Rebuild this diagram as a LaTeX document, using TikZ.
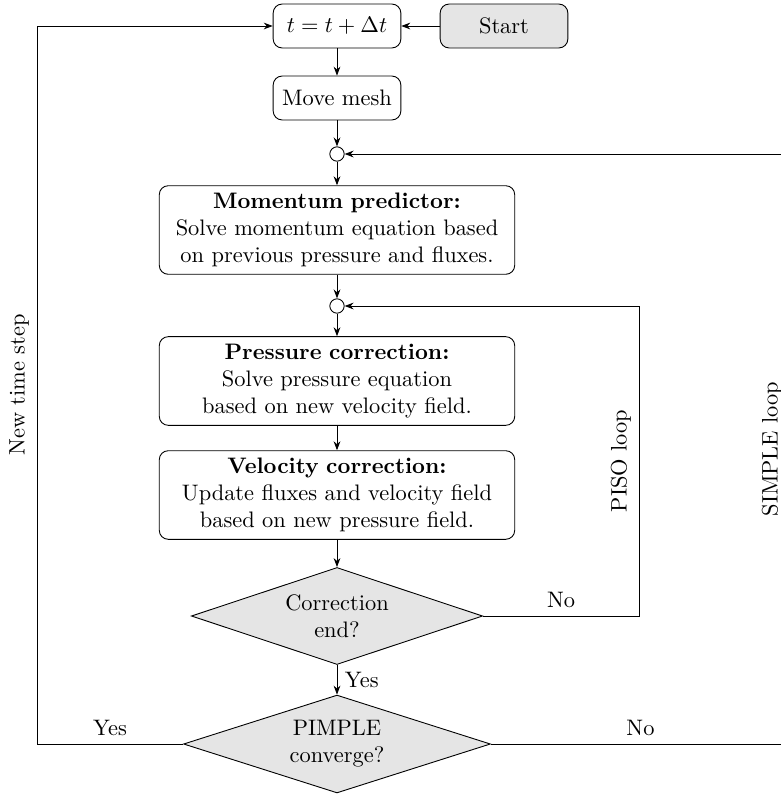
\documentclass[tikz,border=0pt]{standalone}
\usetikzlibrary{shapes.geometric,arrows.meta}
\begin{document}
\begin{tikzpicture}[x=0.4464pt,y=-0.4464pt,
  flow/.style={-{Stealth[length=4pt,width=3pt]}},
  smallbox/.style={draw, rounded corners=4pt, minimum width=57pt, minimum height=19.6pt, align=center},
  startbox/.style={smallbox, fill=gray!20},
  bigbox/.style={draw, rounded corners=4pt, text width=152pt, align=center},
  joint/.style={draw, circle, inner sep=0pt, minimum size=6.4pt},
  decision/.style={draw, diamond, aspect=3, fill=gray!20, inner sep=0pt, align=center}
]
\useasboundingbox (0,0) rectangle (781,795);

\node[smallbox] (t) at (337,26) {$t = t + \Delta t$};
\node[startbox] (start) at (504,26) {Start};
\node[smallbox] (mesh) at (337,98) {Move mesh};
\node[joint] (c1) at (337,154) {};
\node[bigbox] (mom) at (337,230) {\textbf{Momentum predictor:}\\Solve momentum equation based\\on previous pressure and fluxes.};
\node[joint] (c2) at (337,306) {};
\node[bigbox] (pres) at (337,381) {\textbf{Pressure correction:}\\Solve pressure equation\\based on new velocity field.};
\node[bigbox] (vel) at (337,495) {\textbf{Velocity correction:}\\Update fluxes and velocity field\\based on new pressure field.};
\node[decision, minimum width=130pt, minimum height=43.3pt] (corr) at (337,616) {Correction\\end?};
\node[decision, minimum width=137pt, minimum height=43.7pt] (pimple) at (337,744) {PIMPLE\\converge?};

\coordinate (L1) at (37,744);
\coordinate (L2) at (37,26);
\coordinate (P1) at (639,616);
\coordinate (P2) at (639,306);
\coordinate (S1) at (790,744);
\coordinate (S2) at (790,154);

\draw[flow] (start) -- (t);
\draw[flow] (t) -- (mesh);
\draw[flow] (mesh) -- (c1);
\draw[flow] (c1) -- (mom);
\draw[flow] (mom) -- (c2);
\draw[flow] (c2) -- (pres);
\draw[flow] (pres) -- (vel);
\draw[flow] (vel) -- (corr);
\draw[flow] (corr) -- node[right] {Yes} (pimple);

\draw[flow] (pimple.west) -- node[above] {Yes} (L1) -- node[above, sloped] {New time step} (L2) -- (t.west);
\draw[flow] (corr.east) -- node[above] {No} (P1) -- node[above, sloped] {PISO loop} (P2) -- (c2.east);
\draw[flow] (pimple.east) -- node[above] {No} (S1) -- node[above, sloped] {SIMPLE loop} (S2) -- (c1.east);
\end{tikzpicture}
\end{document}
